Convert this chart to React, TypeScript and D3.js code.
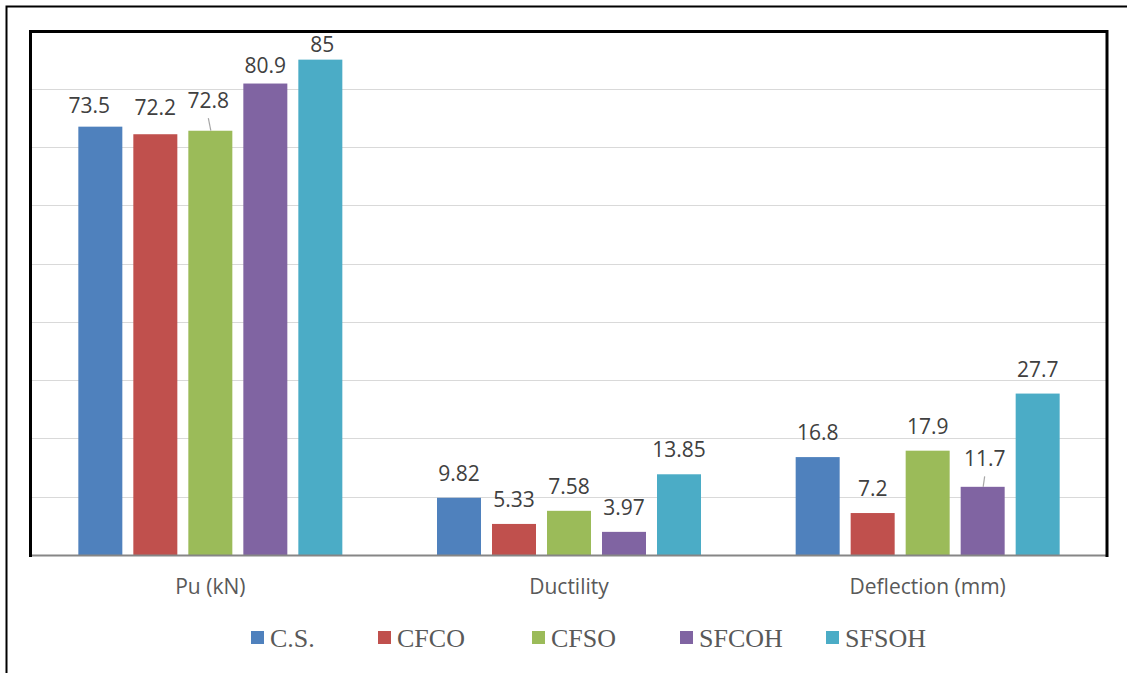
import React from "react";
import * as d3 from "d3";

const categories = ["Pu (kN)", "Ductility", "Deflection (mm)"];
const seriesNames = ["C.S.", "CFCO", "CFSO", "SFCOH", "SFSOH"];
const csValues = [73.5, 9.82, 16.8];
const cfcoValues = [72.2, 5.33, 7.2];
const cfsoValues = [72.8, 7.58, 17.9];
const sfcohValues = [80.9, 3.97, 11.7];
const sfsohValues = [85, 13.85, 27.7];
const valueLabels = [
  ["73.5", "9.82", "16.8"],
  ["72.2", "5.33", "7.2"],
  ["72.8", "7.58", "17.9"],
  ["80.9", "3.97", "11.7"],
  ["85", "13.85", "27.7"],
];
const gridTicks = [10, 20, 30, 40, 50, 60, 70, 80, 90];
const colors = ["#4F81BD", "#C0504D", "#9BBB59", "#8064A2", "#4BACC6"];

const seriesValues = [csValues, cfcoValues, cfsoValues, sfcohValues, sfsohValues];

// per-label placement tweaks: [dx, gap above bar top, leader line]
const DEFAULT_GAP = 17;
const labelPlacement: Record<string, [number, number, boolean]> = {
  "0-0": [-11, 14, false],
  "1-0": [0, 19, false],
  "2-0": [-2, 23, true],
  "3-0": [0, 11, false],
  "4-0": [2, 8, false],
  "3-2": [2, 21, true],
};

const W = 1127;
const H = 673;
const plot = { left: 31, right: 1107, top: 30.5, bottom: 555 };

export default function App() {
  const x0 = d3
    .scaleBand<string>()
    .domain(categories)
    .range([plot.left, plot.right])
    .paddingInner(0)
    .paddingOuter(0);
  const groupW = x0.bandwidth();
  const innerW = 275;
  const x1 = d3
    .scaleBand<string>()
    .domain(seriesNames)
    .range([(groupW - innerW) / 2, (groupW + innerW) / 2])
    .paddingInner(0.2)
    .paddingOuter(0.1);
  const y = d3.scaleLinear().domain([0, 90]).range([plot.bottom, plot.top]);

  const legendX = [251, 378, 532, 680, 826];

  return (
    <svg
      width={W}
      height={H}
      style={{ position: "absolute", left: 0, top: 0, background: "#fff" }}
    >
      <rect x={0} y={0} width={W} height={H} fill="#fff" />
      {/* outer frame */}
      <rect x={6.5} y={6.5} width={W + 20} height={H + 20} fill="none" stroke="#000" strokeWidth={2} />

      {/* gridlines */}
      {gridTicks.slice(0, -1).map((t) => (
        <line
          key={t}
          x1={plot.left}
          x2={plot.right}
          y1={Math.round(y(t)) + 0.5}
          y2={Math.round(y(t)) + 0.5}
          stroke="#D9D9D9"
          strokeWidth={1}
        />
      ))}

      {/* bars */}
      {seriesNames.map((s, si) =>
        categories.map((c, ci) => {
          const v = seriesValues[si][ci];
          const bx = (x0(c) as number) + (x1(s) as number);
          return (
            <rect
              key={s + c}
              x={bx}
              y={y(v)}
              width={x1.bandwidth()}
              height={plot.bottom - y(v)}
              fill={colors[si]}
            />
          );
        })
      )}

      {/* data labels */}
      {seriesNames.map((s, si) =>
        categories.map((c, ci) => {
          const v = seriesValues[si][ci];
          const cx = (x0(c) as number) + (x1(s) as number) + x1.bandwidth() / 2;
          const top = y(v);
          const p = labelPlacement[`${si}-${ci}`];
          const dx = p ? p[0] : 0;
          const gap = p ? p[1] : DEFAULT_GAP;
          const leader = p ? p[2] : false;
          const base = top - gap;
          return (
            <g key={"l" + s + c}>
              {leader && (
                <line
                  x1={cx + dx}
                  y1={base + 10.5}
                  x2={cx + 0.5}
                  y2={top}
                  stroke="#A6A6A6"
                  strokeWidth={1.2}
                />
              )}
              <text
                x={cx + dx}
                y={base}
                textAnchor="middle"
                fontFamily="'Open Sans', sans-serif"
                fontSize={21}
                fill="#404040"
              >
                {valueLabels[si][ci]}
              </text>
            </g>
          );
        })
      )}

      {/* axis line */}
      <line x1={plot.left} x2={plot.right} y1={plot.bottom + 0.5} y2={plot.bottom + 0.5} stroke="#868686" strokeWidth={2} />

      {/* plot area border */}
      <path
        d={`M${plot.left - 0.5},${plot.bottom + 2} V${plot.top + 1} H${plot.right} V${plot.bottom + 2}`}
        fill="none"
        stroke="#000"
        strokeWidth={3}
      />

      {/* category labels */}
      {categories.map((c) => (
        <text
          key={c}
          x={(x0(c) as number) + groupW / 2}
          y={594}
          textAnchor="middle"
          fontFamily="'Open Sans', sans-serif"
          fontSize={21}
          fill="#595959"
        >
          {c}
        </text>
      ))}

      {/* legend */}
      {seriesNames.map((s, i) => (
        <g key={"lg" + s}>
          <rect x={legendX[i]} y={631} width={13} height={13} fill={colors[i]} />
          <text
            x={legendX[i] + 19}
            y={647}
            fontFamily="'Liberation Serif', 'Times New Roman', serif"
            fontSize={26}
            fill="#595959"
          >
            {s}
          </text>
        </g>
      ))}
    </svg>
  );
}
